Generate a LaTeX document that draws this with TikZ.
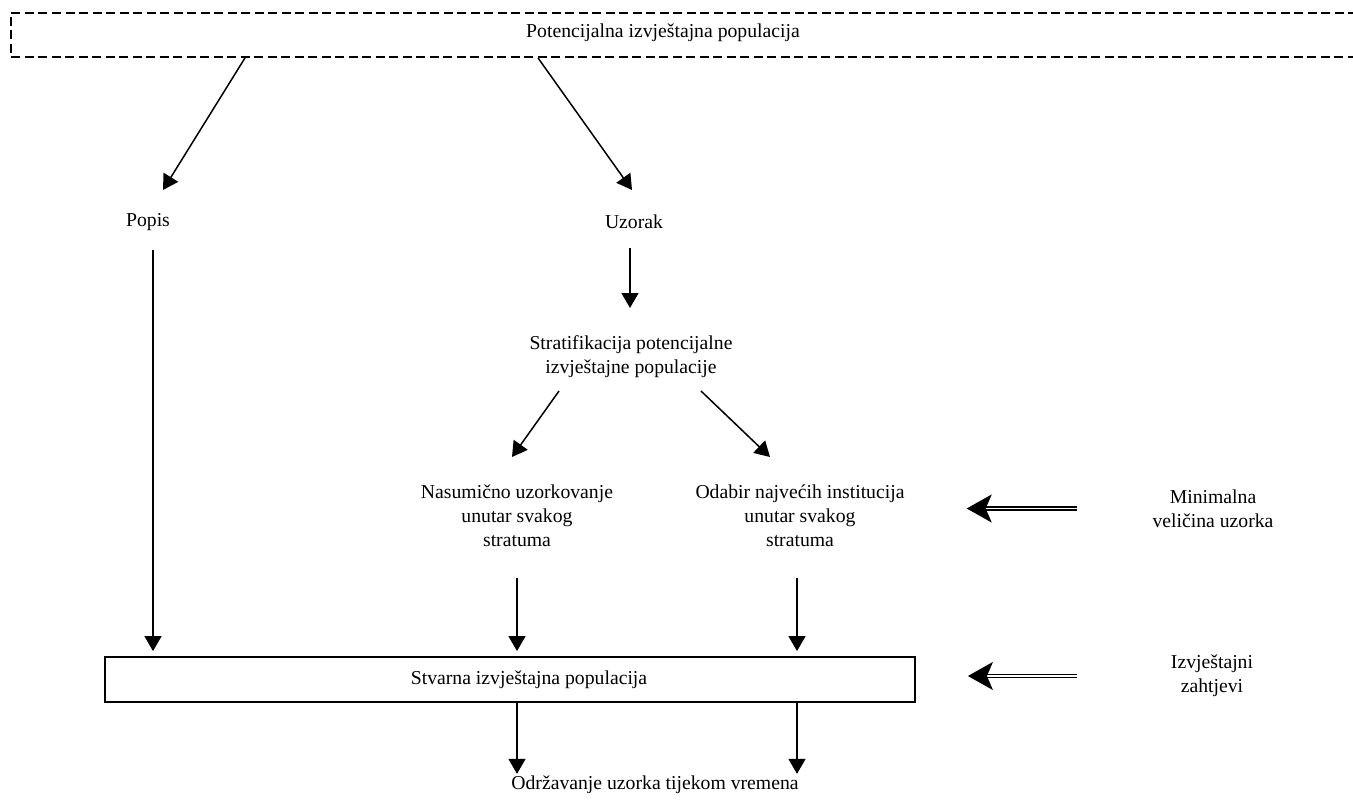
\documentclass[tikz,border=0pt]{standalone}
\usepackage{fontspec}
\setmainfont{Liberation Serif}
\usetikzlibrary{arrows.meta}

\begin{document}
\begin{tikzpicture}[x=1pt, y=-1pt,
	txt/.style={align=center, inner sep=0pt, font=\fontsize{19.7}{24}\selectfont},
	arr/.style={-{Triangle[length=15pt,width=17pt]}, line width=1.5pt},
	dbl/.style={-{Stealth[length=25pt,width=28pt,inset=6pt]}, double, double distance=1.4pt, line width=1.5pt},
	dashbox/.style={draw, line width=1.8pt, dash pattern=on 9pt off 4.5pt, minimum width=1380pt, minimum height=44pt},
	solidbox/.style={draw, line width=1.8pt, minimum width=810pt, minimum height=45pt, inner sep=0pt}]
	\useasboundingbox (0,0) rectangle (1353,800);
	% nodes
	\node[dashbox] (pot) at (701,35) {};
	\node[txt] (potl) at (663,33) {Potencijalna izvještajna populacija};
	\node[txt] (popis) at (148,222) {Popis};
	\node[txt] (uzorak) at (634,222) {Uzorak};
	\node[txt] (strat) at (631,357) {Stratifikacija potencijalne\\izvještajne populacije};
	\node[txt] (nasum) at (517,516) {Nasumično uzorkovanje\\unutar svakog\\stratuma};
	\node[txt] (odabir) at (800,516) {Odabir najvećih institucija\\unutar svakog\\stratuma};
	\node[txt] (minimal) at (1213,508.5) {Minimalna\\veličina uzorka};
	\node[txt] (izvj) at (1212,676) {Izvještajni\\zahtjevi};
	\node[solidbox] (stvarna) at (510,679.5) {};
	\node[txt] (stvarnal) at (529,680) {Stvarna izvještajna populacija};
	\node[txt] (odrz) at (655,785) {Održavanje uzorka tijekom vremena};
	% arrows
	\draw[arr] ([xshift=-456pt]pot.south) -- ([xshift=15pt,yshift=32pt]popis.center);
	\draw[arr] ([xshift=-163pt]pot.south) -- ([xshift=-2pt,yshift=32pt]uzorak.center);
	\draw[arr, shorten >=5pt] ([xshift=5pt,yshift=-28pt]popis.center) -- ([xshift=5pt]popis.center |- stvarna.north);
	\draw[arr] ([xshift=-4pt,yshift=-26pt]uzorak.center) -- ([xshift=-1pt,yshift=49pt]strat.center);
	\draw[arr] ([xshift=-72pt,yshift=-34pt]strat.center) -- ([xshift=-5pt,yshift=59pt]nasum.center);
	\draw[arr] ([xshift=70pt,yshift=-34pt]strat.center) -- ([xshift=-30pt,yshift=59pt]odabir.center);
	\draw[arr, shorten >=5pt] ([yshift=-62pt]nasum.center) -- (nasum.center |- stvarna.north);
	\draw[arr, shorten >=5pt] ([xshift=-3pt,yshift=-62pt]odabir.center) -- ([xshift=-3pt]odabir.center |- stvarna.north);
	\draw[arr, shorten >=2pt] (nasum.center |- stvarna.south) -- (nasum.center |- odrz.north);
	\draw[arr, shorten >=2pt] ([xshift=-3pt]odabir.center |- stvarna.south) -- ([xshift=-3pt]odabir.center |- odrz.north);
	\draw[dbl, shorten >=62pt] ([xshift=-136pt]minimal.center) -- (minimal.center -| odabir.east);
	\draw[dbl, shorten >=52pt] ([xshift=-135pt]izvj.center) -- (izvj.center -| stvarna.east);
\end{tikzpicture}
\end{document}
